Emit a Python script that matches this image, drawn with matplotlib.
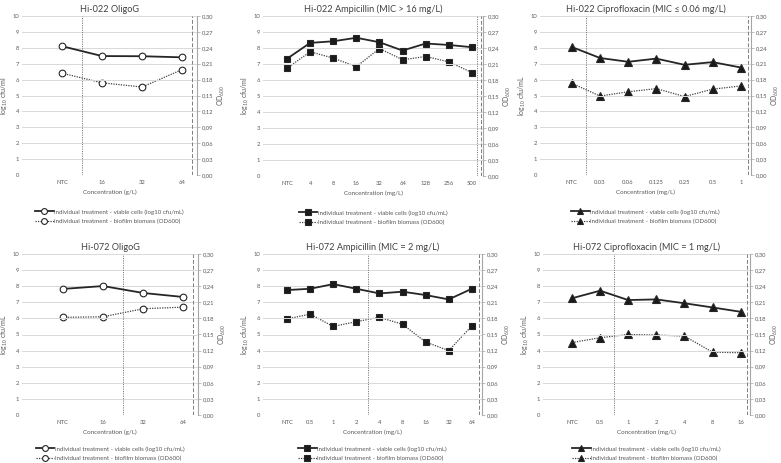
import numpy as np
import matplotlib.pyplot as plt
from matplotlib.lines import Line2D

plt.rcParams['font.family'] = ['Lato', 'DejaVu Sans']
plt.rcParams['mathtext.fontset'] = 'custom'
plt.rcParams['mathtext.rm'] = 'Lato'
plt.rcParams['mathtext.it'] = 'Lato'

# ---- data ----
titles = ["Hi-022 OligoG", "Hi-022 Ampicillin (MIC > 16 mg/L)", "Hi-022 Ciprofloxacin (MIC \u2264 0.06 mg/L)",
          "Hi-072 OligoG", "Hi-072 Ampicillin (MIC = 2 mg/L)", "Hi-072 Ciprofloxacin (MIC = 1 mg/L)"]
xlabels = ["Concentration (g/L)", "Concentration (mg/L)", "Concentration (mg/L)",
           "Concentration (g/L)", "Concentration (mg/L)", "Concentration (mg/L)"]
ylabels = ["log$_{10}$ cfu/ml", "log$_{10}$ cfu/ml", "log$_{10}$ cfu/mL",
           "log$_{10}$ cfu/mL", "log$_{10}$ cfu/mL", "log$_{10}$ cfu/mL"]

cats_022_oligo = ["NTC", "16", "32", "64"]
cats_022_amp = ["NTC", "4", "8", "16", "32", "64", "128", "256", "500"]
cats_022_cip = ["NTC", "0.03", "0.06", "0.125", "0.25", "0.5", "1"]
cats_072_oligo = ["NTC", "16", "32", "64"]
cats_072_amp = ["NTC", "0.5", "1", "2", "4", "8", "16", "32", "64"]
cats_072_cip = ["NTC", "0.5", "1", "2", "4", "8", "16"]

viable_022_oligo = [8.10, 7.48, 7.47, 7.40]
viable_022_amp = [7.33, 8.32, 8.42, 8.64, 8.36, 7.84, 8.28, 8.19, 8.05]
viable_022_cip = [8.05, 7.36, 7.12, 7.32, 6.93, 7.10, 6.76]
viable_072_oligo = [7.83, 8.01, 7.58, 7.33]
viable_072_amp = [7.76, 7.84, 8.13, 7.84, 7.55, 7.66, 7.45, 7.18, 7.84]
viable_072_cip = [7.25, 7.72, 7.14, 7.18, 6.94, 6.68, 6.41]

biofilm_022_oligo = [0.192, 0.174, 0.166, 0.199]
biofilm_022_amp = [0.202, 0.233, 0.221, 0.205, 0.239, 0.218, 0.224, 0.214, 0.194]
biofilm_022_cip = [0.173, 0.149, 0.157, 0.163, 0.148, 0.162, 0.168]
biofilm_072_oligo = [0.182, 0.183, 0.198, 0.201]
biofilm_072_amp = [0.179, 0.188, 0.165, 0.174, 0.182, 0.169, 0.136, 0.120, 0.166]
biofilm_072_cip = [0.135, 0.144, 0.150, 0.149, 0.147, 0.117, 0.116]

# MIC line position (between categories), in category units
mic_pos = [0.5, 8.22, 0.5, 1.5, 3.5, 1.5]

cats = [cats_022_oligo, cats_022_amp, cats_022_cip, cats_072_oligo, cats_072_amp, cats_072_cip]
viable = [viable_022_oligo, viable_022_amp, viable_022_cip, viable_072_oligo, viable_072_amp, viable_072_cip]
biofilm = [biofilm_022_oligo, biofilm_022_amp, biofilm_022_cip, biofilm_072_oligo, biofilm_072_amp, biofilm_072_cip]
markers = ["o", "s", "^", "o", "s", "^"]

# ---- layout in pixels: (left, right, top, bottom) of plot area ----
W, H = 781, 463
boxes = [(22, 197, 16, 175), (263, 483, 16, 176), (540, 751, 16, 175),
         (22, 198, 254, 415), (263, 482, 254, 415), (543, 750, 254, 415)]
xleft = [-1.0, -1.04, -1.13, -1.02, -1.04, -1.03]
xright_pad = [0.37, 0.48, 0.36, 0.37, 0.44, 0.33]

grey = "#595959"
fig = plt.figure(figsize=(W / 100, H / 100), dpi=100)

for i in range(6):
    l, r, t, b = boxes[i]
    ax = fig.add_axes([l / W, (H - b) / H, (r - l) / W, (b - t) / H])
    ax2 = ax.twinx()
    n = len(cats[i])
    x = np.arange(n)
    xmax = n - 1 + xright_pad[i]

    ax.set_xlim(xleft[i], xmax)
    ax.set_ylim(0, 10)
    ax.set_yticks(range(0, 11))
    ax2.set_ylim(0, 0.30)
    ax2.set_yticks(np.arange(0, 0.31, 0.03))
    ax2.set_yticklabels([f"{v:.2f}".replace(".", ",") for v in np.arange(0, 0.31, 0.03)])

    ax.grid(axis="y", color="#d9d9d9", lw=0.7)
    ax.set_axisbelow(True)
    for sp in ["left", "top", "bottom", "right"]:
        ax.spines[sp].set_visible(False)
    for sp in ["left", "top", "bottom"]:
        ax2.spines[sp].set_visible(False)
    ax2.spines["right"].set_color("#a6a6a6")
    ax2.spines["right"].set_linewidth(0.8)

    ax.set_xticks(x)
    ax.set_xticklabels(cats[i])
    ax.tick_params(axis="x", length=0, labelsize=4.2, colors=grey, pad=3.5)
    ax.tick_params(axis="y", length=0, labelsize=4.2, colors=grey, pad=2)
    ax2.tick_params(axis="y", length=2, width=0.5, color="#a6a6a6", labelsize=4.2,
                    labelcolor=grey, pad=1.5)

    # reference lines: MIC (dotted) and the dashed line by the right axis
    ax.axvline(mic_pos[i], color="#7f7f7f", ls=(0, (1.2, 1.2)), lw=0.7, zorder=1)
    ax.axvline(n - 1 + xright_pad[i] - 0.12 if i != 1 else n - 1 + 0.38,
               color="#7f7f7f", ls=(0, (4, 2)), lw=0.7, zorder=1)

    mfc = "white" if markers[i] == "o" else "#1a1a1a"
    ms = 4.8 if markers[i] != "^" else 5.2
    ax.plot(x, viable[i], color="#262626", lw=1.3, marker=markers[i], ms=ms,
            mfc=mfc, mec="#262626", mew=0.8, zorder=4)
    ax2.plot(x, biofilm[i], color="#404040", lw=0.9, ls=(0, (1, 1)), marker=markers[i], ms=ms,
             mfc=mfc, mec="#262626", mew=0.8, zorder=4)
    ax.set_zorder(ax2.get_zorder() + 1)
    ax.patch.set_visible(False)

    ax.set_title(titles[i], fontsize=6.6, color="#404040", pad=3)
    ax.set_xlabel(xlabels[i], fontsize=4.5, color=grey, labelpad=3)
    ax.set_ylabel(ylabels[i], fontsize=5, color=grey, labelpad=1.5)
    ax2.set_ylabel("OD$_{600}$", fontsize=5, color=grey, labelpad=1.5, rotation=90)

    handles = [
        Line2D([], [], color="#262626", lw=1.3, marker=markers[i], ms=4.2, mfc=mfc, mec="#262626", mew=0.8),
        Line2D([], [], color="#404040", lw=0.9, ls=(0, (1, 1)), marker=markers[i], ms=4.2, mfc=mfc,
               mec="#262626", mew=0.8),
    ]
    labels = ["Individual treatment - viable cells (log10 cfu/mL)",
              "Individual treatment - biofilm biomass (OD600)"]
    leg_top = (H - b - 31) / H if i < 3 else (H - b - 28) / H
    fig.legend(handles, labels, loc="upper center",
               bbox_to_anchor=((l + r) / 2 / W, leg_top), frameon=False,
               fontsize=4.4, labelcolor=grey, handlelength=3.0, handletextpad=0.1,
               labelspacing=0.75, borderpad=0)

fig.savefig("out.png", dpi=100, facecolor="white")
